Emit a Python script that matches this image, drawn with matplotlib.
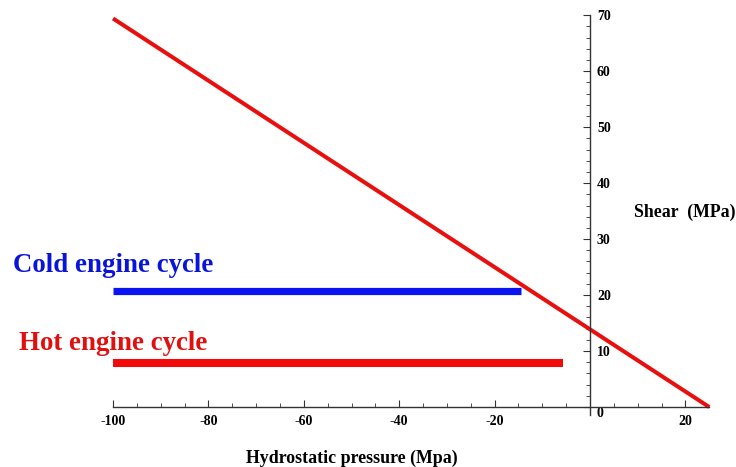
import numpy as np
import matplotlib.pyplot as plt
from matplotlib.ticker import FixedLocator

# failure line (shear vs hydrostatic pressure)
line_x = [-100, 25]
line_y = [69.4, 0]

# engine cycles: y level and x extent
cold_x = [-100, -14.5]
cold_y = [20.8, 20.8]
hot_x = [-100, -5.7]
hot_y = [7.9, 7.9]

xticks = [-100, -80, -60, -40, -20, 20]
yticks = [0, 10, 20, 30, 40, 50, 60, 70]

plt.rcParams['font.family'] = ['Liberation Serif', 'DejaVu Serif']
plt.rcParams['font.weight'] = 'bold'

fig = plt.figure(figsize=(7.36, 4.67), dpi=100)
ax = fig.add_axes([0, 0, 1, 1])
ax.set_xlim(-123.7, 30.6)
ax.set_ylim(-10.7, 72.7)

ax.plot(line_x, line_y, color='#e8100f', lw=2.9, solid_capstyle='butt')
ax.plot(cold_x, cold_y, color='#0a14f0', lw=5.2, solid_capstyle='butt')
ax.plot(hot_x, hot_y, color='#f00a0a', lw=5.8, solid_capstyle='butt')

# axes crossing at origin
for s in ['top', 'left']:
    ax.spines[s].set_visible(False)
ax.spines['bottom'].set_position(('data', 0))
ax.spines['bottom'].set_bounds(-100, 25)
ax.spines['right'].set_position(('data', 0))
ax.spines['right'].set_bounds(-1.5, 70)
for s in ['bottom', 'right']:
    ax.spines[s].set_color('#333333')
    ax.spines[s].set_linewidth(1.0)

ax.yaxis.set_ticks_position('right')
ax.set_xticks(xticks)
ax.set_yticks(yticks)
ax.xaxis.set_minor_locator(FixedLocator(np.arange(-95, 25, 5)))
ax.yaxis.set_minor_locator(FixedLocator(np.arange(2, 70, 2)))
ax.tick_params(axis='x', which='major', direction='in', length=5, pad=6,
               labelsize=10, color='#333333')
ax.tick_params(axis='x', which='minor', direction='in', length=3, color='#333333')
ax.tick_params(axis='y', which='major', direction='in', length=5, pad=5,
               labelsize=10, color='#333333')
ax.tick_params(axis='y', which='minor', direction='in', length=3, color='#333333')
ax.set_xticklabels([str(v) for v in xticks])
ax.set_yticklabels([str(v) for v in yticks])
for lbl in ax.get_xticklabels() + ax.get_yticklabels():
    lbl.set_fontweight('bold')
# the "0" sits a little below the x axis in the reference
ax.get_yticklabels()[0].set_va('top')

fig.text(634 / 736, 1 - 212 / 467, 'Shear  (MPa)', fontsize=12.8, fontweight='bold',
         va='center', ha='left')
fig.text(352 / 736, 1 - 458 / 467, 'Hydrostatic pressure (Mpa)', fontsize=12.9,
         fontweight='bold', va='center', ha='center')
fig.text(13 / 736, 1 - 265 / 467, 'Cold engine cycle', fontsize=19.4, fontweight='bold',
         color='#0a14d8', va='center', ha='left')
fig.text(19 / 736, 1 - 343 / 467, 'Hot engine cycle', fontsize=19.4, fontweight='bold',
         color='#e01010', va='center', ha='left')

fig.savefig('out.png', dpi=100)
